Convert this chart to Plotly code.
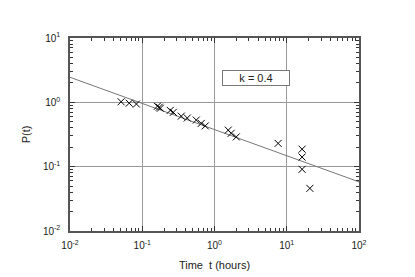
import plotly.graph_objects as go

# Data
t_hours = [0.051, 0.066, 0.083, 0.162, 0.172, 0.178, 0.244, 0.269, 0.347, 0.42,
           0.559, 0.655, 0.745, 1.55, 1.70, 2.0, 7.6, 16.3, 16.3, 16.3, 20.9]
p_values = [1.02, 0.97, 0.94, 0.87, 0.84, 0.81, 0.75, 0.70, 0.61, 0.57,
            0.53, 0.47, 0.43, 0.37, 0.33, 0.29, 0.23, 0.187, 0.141, 0.091, 0.046]

fit_t = [0.01, 100]
fit_p = [2.45, 0.058]

decades = [-2, -1, 0, 1, 2]
x_tick_vals = [10 ** d for d in decades]
x_tick_text = ["10<sup>%d</sup>" % d for d in decades]
y_decades = [-2, -1, 0, 1]
y_tick_vals = [10 ** d for d in y_decades]
y_tick_text = ["10<sup>%d</sup>" % d for d in y_decades]

x_minor = [m * 10 ** d for d in decades[:-1] for m in range(2, 10)]
y_minor = [m * 10 ** d for d in y_decades[:-1] for m in range(2, 10)]

FONT = "Liberation Sans, Arial"

fig = go.Figure()
fig.add_trace(go.Scatter(x=fit_t, y=fit_p, mode="lines",
                         line=dict(color="#777777", width=1), hoverinfo="skip"))
fig.add_trace(go.Scatter(x=t_hours, y=p_values, mode="markers",
                         marker=dict(symbol="x-thin", size=7,
                                     line=dict(color="black", width=1))))

axis_common = dict(
    type="log", showline=True, linecolor="#555555", linewidth=1.5, mirror="allticks",
    ticks="inside", ticklen=5, tickcolor="#333333", showgrid=True,
    gridcolor="#999999", gridwidth=1, zeroline=False, automargin=False,
    tickfont=dict(family=FONT, size=10, color="#222222"),
)

fig.update_xaxes(range=[-2, 2], tickvals=x_tick_vals, ticktext=x_tick_text,
                 ticklabelstandoff=4,
                 minor=dict(tickvals=x_minor, ticks="inside", ticklen=3,
                            tickcolor="#333333", showgrid=False),
                 title=dict(text="Time  t (hours)", standoff=12,
                            font=dict(family=FONT, size=11, color="#222222")),
                 **axis_common)
fig.update_yaxes(range=[-2, 1], tickvals=y_tick_vals, ticktext=y_tick_text,
                 ticklabelstandoff=6,
                 minor=dict(tickvals=y_minor, ticks="inside", ticklen=3,
                            tickcolor="#333333", showgrid=False),
                 title=dict(text="P(t)", standoff=10,
                            font=dict(family=FONT, size=11, color="#222222")),
                 **axis_common)

fig.add_annotation(x=0.645, y=0.834, xref="paper", yref="paper", xanchor="center",
                   text="k = 0.4", showarrow=False,
                   font=dict(family=FONT, size=11, color="#222222"),
                   bgcolor="white", bordercolor="#777777", borderwidth=1,
                   width=64, height=12, borderpad=1)

# page body adds an 8px margin, so the figure is 8px smaller and margins shifted
fig.update_layout(width=407, height=269, showlegend=False, template="none",
                  plot_bgcolor="white", paper_bgcolor="white",
                  margin=dict(l=62, r=56, t=30, b=46))

fig.write_html("out.html")
